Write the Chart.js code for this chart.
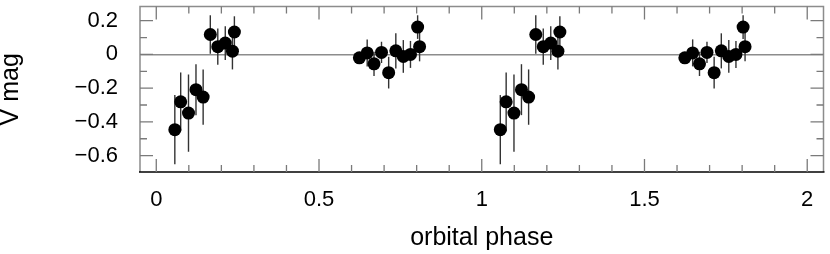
<!DOCTYPE html>
<html>
<head>
<meta charset="utf-8">
<script src="https://cdn.jsdelivr.net/npm/chart.js@4.4.1/dist/chart.umd.min.js"></script>
<style>
  html, body { margin: 0; padding: 0; background: #fff; }
  #wrap { width: 830px; height: 254px; }
</style>
</head>
<body>
<div id="wrap"><canvas id="lightCurve" width="830" height="254"></canvas></div>
<script>
// one orbital cycle (it is shown twice, phase and phase+1)
const phase = [0.057, 0.075, 0.099, 0.122, 0.144, 0.166, 0.189, 0.212, 0.234, 0.240,
               0.624, 0.648, 0.669, 0.692, 0.714, 0.736, 0.759, 0.781, 0.803, 0.809];
const vmag  = [-0.446, -0.281, -0.348, -0.209, -0.253, 0.118, 0.046, 0.067, 0.019, 0.133,
               -0.020, 0.009, -0.056, 0.012, -0.108, 0.021, -0.012, 0.000, 0.162, 0.046];
const verr  = [0.205, 0.174, 0.229, 0.151, 0.164, 0.114, 0.107, 0.100, 0.108, 0.093,
               0.030, 0.080, 0.072, 0.063, 0.094, 0.104, 0.097, 0.080, 0.070, 0.087];

const xTickLabels = [0, 0.5, 1, 1.5, 2];
const yTickLabels = [-0.6, -0.4, -0.2, 0, 0.2];

const FONT = "'Liberation Sans', Arial, Helvetica, sans-serif";

let points = [];
[0, 1].forEach(cycle => {
  phase.forEach((p, i) => {
    points.push({ x: p + cycle, y: vmag[i], err: verr[i] });
  });
});

// error bars drawn under the dots, using the library's scales
const errorBars = {
  id: 'errorBars',
  beforeDatasetsDraw(chart) {
    const ctx = chart.ctx;
    const yScale = chart.scales.y;
    const meta = chart.getDatasetMeta(0);
    ctx.save();
    ctx.strokeStyle = '#333';
    ctx.lineWidth = 1.4;
    meta.data.forEach((pt, i) => {
      const d = chart.data.datasets[0].data[i];
      ctx.beginPath();
      ctx.moveTo(pt.x, yScale.getPixelForValue(d.y - d.err));
      ctx.lineTo(pt.x, yScale.getPixelForValue(d.y + d.err));
      ctx.stroke();
    });
    ctx.restore();
  }
};

// frame with inward ticks on all four sides
const frame = {
  id: 'frame',
  afterDraw(chart) {
    const ctx = chart.ctx;
    const a = chart.chartArea;
    const xs = chart.scales.x, ys = chart.scales.y;
    ctx.save();
    ctx.lineWidth = 1.5;
    ctx.strokeStyle = '#8c8c8c';
    ctx.beginPath();
    ctx.moveTo(a.left, a.bottom);
    ctx.lineTo(a.left, a.top);
    ctx.lineTo(a.right, a.top);
    ctx.lineTo(a.right, a.bottom);
    ctx.stroke();
    ctx.strokeStyle = '#000';
    ctx.beginPath();
    ctx.moveTo(a.left - 1, a.bottom);
    ctx.lineTo(a.right + 1, a.bottom);
    ctx.stroke();

    ctx.strokeStyle = '#7a7a7a';
    ctx.lineWidth = 1.3;
    for (let k = 0; k <= 20; k++) {
      const px = xs.getPixelForValue(k / 10);
      const len = k % 5 === 0 ? 13 : 7;
      ctx.beginPath();
      ctx.moveTo(px, a.bottom); ctx.lineTo(px, a.bottom - len);
      ctx.moveTo(px, a.top); ctx.lineTo(px, a.top + len);
      ctx.stroke();
    }
    for (let k = -6; k <= 2; k++) {
      const py = ys.getPixelForValue(k / 10);
      const len = k % 2 === 0 ? 13 : 7;
      ctx.beginPath();
      ctx.moveTo(a.left, py); ctx.lineTo(a.left + len, py);
      ctx.moveTo(a.right, py); ctx.lineTo(a.right - len, py);
      ctx.stroke();
    }
    ctx.restore();
  }
};

const CHART = document.getElementById('lightCurve');

new Chart(CHART, {
  type: 'scatter',
  data: {
    datasets: [{
      label: 'V mag',
      data: points,
      backgroundColor: '#000',
      borderColor: '#000',
      pointRadius: 6.5,
      pointHoverRadius: 6.5,
      borderWidth: 0
    }]
  },
  options: {
    responsive: false,
    animation: false,
    devicePixelRatio: 1,
    layout: { padding: { left: 0, top: 3, right: 4, bottom: 0 } },
    plugins: {
      legend: { display: false },
      tooltip: { enabled: false }
    },
    scales: {
      x: {
        type: 'linear',
        min: -0.05,
        max: 2.05,
        afterFit(scale) {
          scale.height = 82;
          scale.paddingLeft = 0;
          scale.paddingRight = 0;
        },
        afterBuildTicks(scale) { scale.ticks = xTickLabels.map(v => ({ value: v })); },
        grid: { display: false, drawTicks: false },
        border: { display: false },
        ticks: {
          padding: 15,
          color: '#000',
          font: { family: FONT, size: 22 },
          maxRotation: 0,
          callback: v => String(v)
        },
        title: {
          display: true,
          text: 'orbital phase',
          color: '#000',
          font: { family: FONT, size: 25 },
          padding: { top: 0, bottom: 1 }
        }
      },
      y: {
        type: 'linear',
        min: -0.697,
        max: 0.284,
        afterFit(scale) {
          scale.width = 140;
          scale.paddingTop = 0;
          scale.paddingBottom = 0;
        },
        afterBuildTicks(scale) { scale.ticks = yTickLabels.map(v => ({ value: v })); },
        grid: {
          drawTicks: false,
          lineWidth: 1.5,
          color: c => (c.tick && c.tick.value === 0 ? '#8c8c8c' : 'rgba(0,0,0,0)')
        },
        border: { display: false },
        ticks: {
          padding: 22,
          color: '#000',
          font: { family: FONT, size: 22 },
          callback: v => (v < 0 ? '\u2212' + Math.abs(v) : String(v))
        },
        title: {
          display: true,
          text: 'V mag',
          color: '#000',
          font: { family: FONT, size: 25, lineHeight: 0.9 },
          padding: { top: 0, bottom: 0 }
        }
      }
    }
  },
  plugins: [errorBars, frame]
});
</script>
</body>
</html>
